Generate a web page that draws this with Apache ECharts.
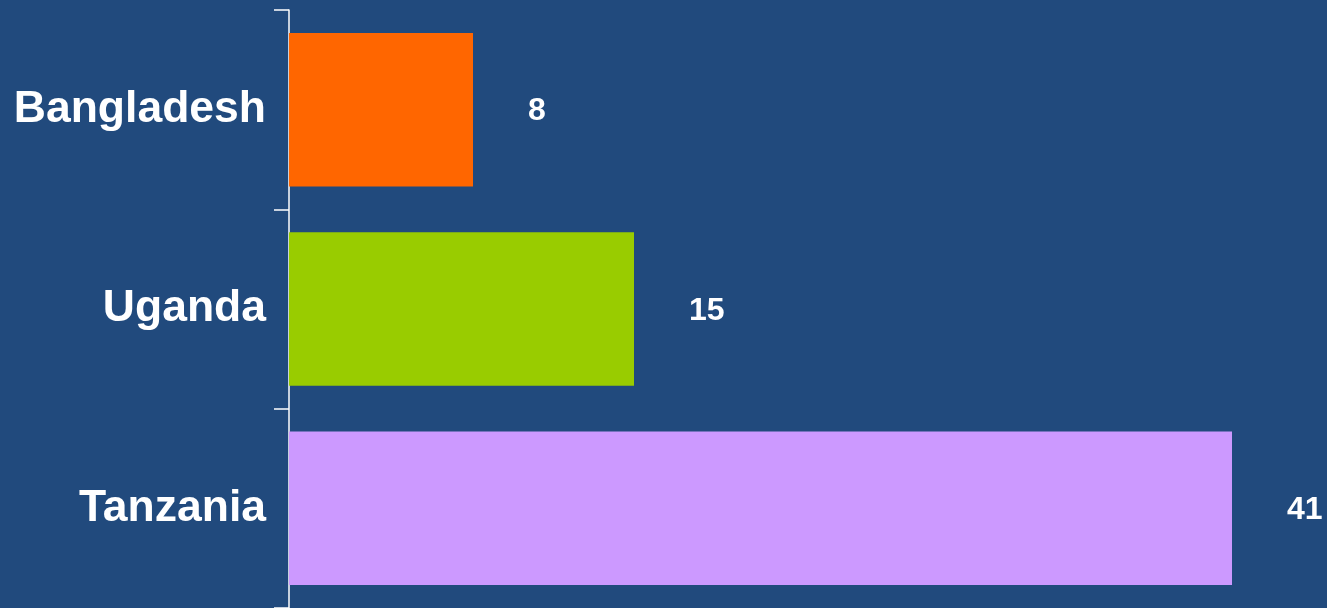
<!DOCTYPE html>
<html>
<head>
<meta charset="utf-8">
<script src="https://cdn.jsdelivr.net/npm/echarts@6/dist/echarts.min.js"></script>
<style>
  html, body { margin: 0; padding: 0; background: #214a7d; }
  #main { width: 1327px; height: 608px; }
</style>
</head>
<body>
<div id="main"></div>
<script>
// 国家和数值
var countries = ['Bangladesh', 'Uganda', 'Tanzania'];
var values = [8, 15, 41];
var barColors = ['#ff6600', '#99cc00', '#cc99ff'];

var chart = echarts.init(document.getElementById('main'));

var barData = values.map(function (v, i) {
  return { value: v, itemStyle: { color: barColors[i] } };
});

chart.setOption({
  backgroundColor: '#214a7d',
  animation: false,
  grid: {
    left: 289,
    right: 3,
    top: 10,
    bottom: -1
  },
  xAxis: {
    type: 'value',
    min: 0,
    max: 45,
    show: false
  },
  yAxis: {
    type: 'category',
    inverse: true,
    data: countries,
    axisLine: {
      show: true,
      lineStyle: { color: '#ffffff', width: 1.5 }
    },
    axisTick: {
      show: true,
      length: 15,
      lineStyle: { color: '#ffffff', width: 1.5 }
    },
    axisLabel: {
      margin: 23,
      color: '#ffffff',
      fontWeight: 'bold',
      fontFamily: "'Liberation Sans', Arial, sans-serif",
      fontSize: 44.5
    },
    splitLine: { show: false }
  },
  series: [{
    type: 'bar',
    data: barData,
    barCategoryGap: '23%',
    label: {
      show: true,
      position: 'right',
      distance: 55,
      offset: [0, 2],
      color: '#ffffff',
      fontWeight: 'bold',
      fontFamily: "'Liberation Sans', Arial, sans-serif",
      fontSize: 32
    }
  }]
});
</script>
</body>
</html>
